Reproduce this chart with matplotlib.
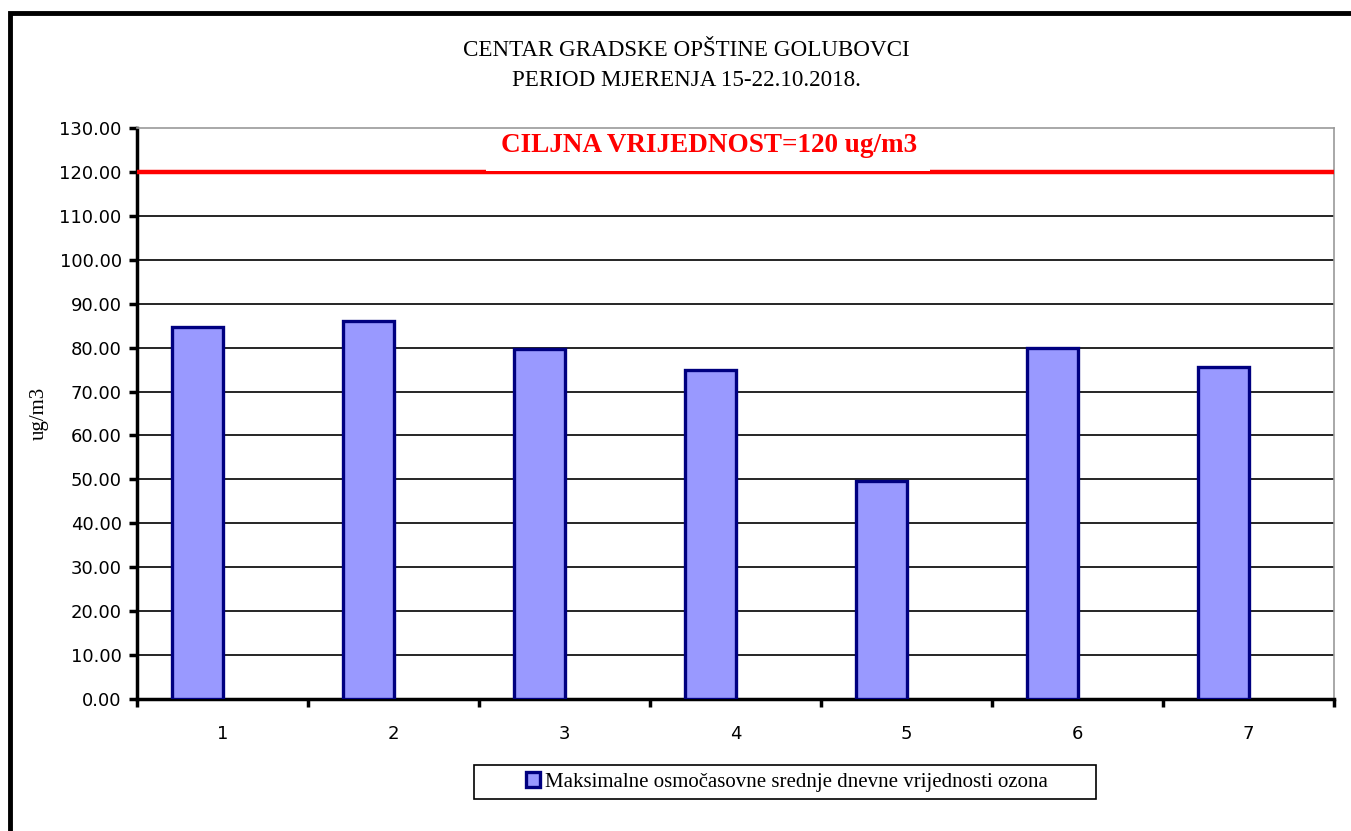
import matplotlib
matplotlib.use("Agg")
import matplotlib.pyplot as plt
from matplotlib.patches import Rectangle
import numpy as np

categories = ["1", "2", "3", "4", "5", "6", "7"]
values = [84.6, 86.0, 79.6, 75.0, 49.7, 79.9, 75.5]
yticks = [0, 10, 20, 30, 40, 50, 60, 70, 80, 90, 100, 110, 120, 130]
target = 120
title_lines = ["CENTAR GRADSKE OPŠTINE GOLUBOVCI", "PERIOD MJERENJA 15-22.10.2018."]
legend_label = "Maksimalne osmočasovne srednje dnevne vrijednosti ozona"
target_label = "CILJNA VRIJEDNOST=120 ug/m3"

plt.rcParams['font.family'] = ['Liberation Serif', 'DejaVu Serif']

W, H = 1351, 831
fig = plt.figure(figsize=(W/100, H/100), dpi=100)

# outer frame
fig.patches.append(Rectangle((10/W, -0.1), 1.2, 1 - 13/H + 0.1, transform=fig.transFigure,
                             fill=False, edgecolor='black', lw=3.5))

ax = fig.add_axes([137/W, 1 - 699/H, (1334-137)/W, (699-128)/H])
n = len(categories)
x = np.arange(n)
ax.bar(x - 0.1475, values, width=0.295, color='#9999FF', edgecolor='#000080', lw=2.4, zorder=3,
       label=legend_label)

ax.set_xlim(-0.5, n - 0.5)
ax.set_ylim(0, 130)
ax.set_yticks(yticks)
ax.set_yticklabels([f"{v:.2f}" for v in yticks], fontsize=13, family='DejaVu Sans')
for v in yticks[1:-1]:
    ax.axhline(v, color='black', lw=1.2, zorder=1)

ax.set_xticks(x)
ax.set_xticklabels(categories, fontsize=13, family='DejaVu Sans')
ax.set_xticks(np.arange(n + 1) - 0.5, minor=True)
ax.tick_params(axis='x', which='major', length=0, pad=19)
ax.tick_params(axis='x', which='minor', length=6, width=2.5, direction='out')
ax.tick_params(axis='y', length=6, width=2.5, direction='out', pad=5)

for s in ['left', 'bottom']:
    ax.spines[s].set_linewidth(2.5)
for s in ['top', 'right']:
    ax.spines[s].set_color('#999999')
    ax.spines[s].set_linewidth(1.2)

# target line with white label box covering its upper half
ax.axhline(target, color='#FF0000', lw=3.2, zorder=4)
ax.add_patch(Rectangle((0.2916, 120.15), 0.6625 - 0.2916, 9.6,
                       transform=ax.get_yaxis_transform(), facecolor='white',
                       edgecolor='none', zorder=4.5))
ax.text(0.478, 126.0, target_label, transform=ax.get_yaxis_transform(), ha='center', va='center',
        color='#FF0000', fontsize=19.5, fontweight='bold', zorder=5)

ax.set_ylabel("ug/m3", fontsize=15, labelpad=8)

fig.text(686/W, 1 - 51/H, title_lines[0], ha='center', va='center', fontsize=16.6)
fig.text(686/W, 1 - 81/H, title_lines[1], ha='center', va='center', fontsize=16.6)

leg = ax.legend(loc='center', bbox_to_anchor=(787/W, 1 - 782/H), bbox_transform=fig.transFigure,
                fontsize=15, frameon=False,
                handlelength=0.7, handleheight=0.7, handletextpad=0.25, borderpad=0.4,
                borderaxespad=0)
fig.patches.append(Rectangle((474/W, 1 - 799/H), (1096-474)/W, 34/H, transform=fig.transFigure,
                             fill=False, edgecolor='black', lw=1.2))

fig.savefig("out.png", dpi=100)
